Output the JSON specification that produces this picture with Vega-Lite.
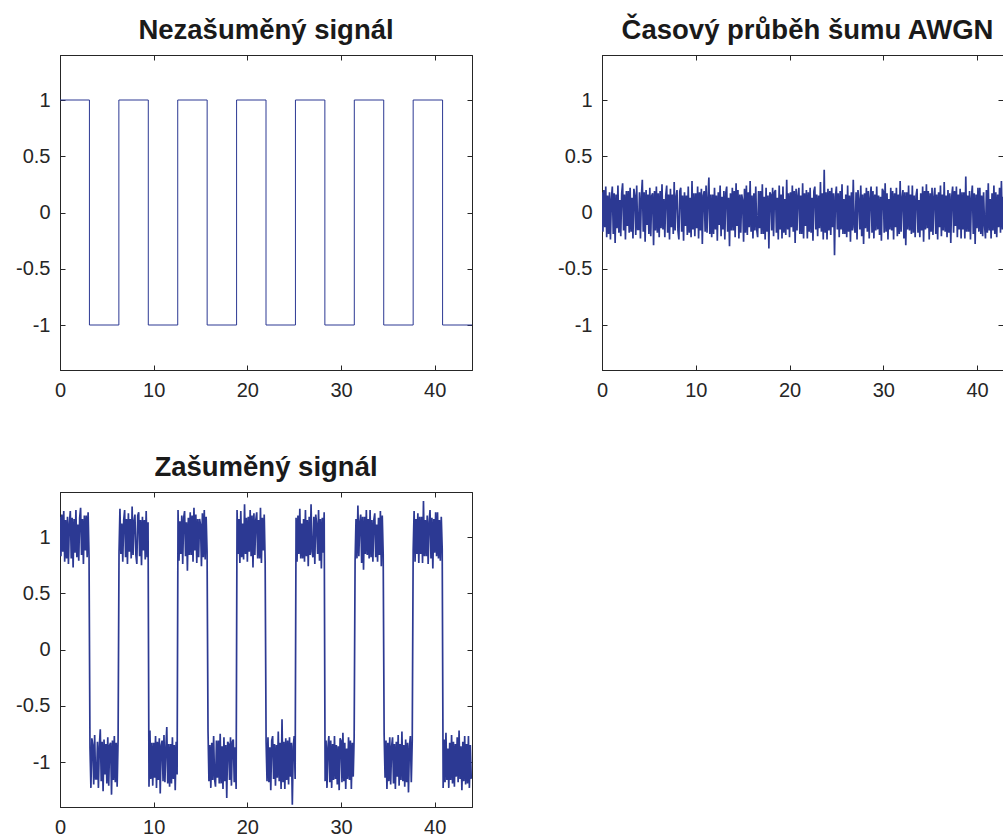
{
"$schema": "https://vega.github.io/schema/vega-lite/v6.json",
"background": "white",
"padding": {"left": 15, "top": 16, "right": 0, "bottom": 0},
"datasets": {
"clean": [
{"t":0,"s":1},{"t":3.1416,"s":-1},{"t":6.2832,"s":1},{"t":9.4248,"s":-1},{"t":12.5664,"s":1},{"t":15.708,"s":-1},{"t":18.8496,"s":1},{"t":21.9911,"s":-1},{"t":25.1327,"s":1},{"t":28.2743,"s":-1},{"t":31.4159,"s":1},{"t":34.5575,"s":-1},{"t":37.6991,"s":1},{"t":40.8407,"s":-1},{"t":43.98,"s":-1}
],
"noise": [
{"t":0,"n":0.18,"z":1.18},{"t":0.1,"n":-0.17,"z":0.83},{"t":0.2,"n":0.2,"z":1.2},{"t":0.3,"n":-0.13,"z":0.87},{"t":0.4,"n":0.23,"z":1.23},{"t":0.5,"n":-0.22,"z":0.78},{"t":0.6,"n":0.15,"z":1.15},{"t":0.7,"n":-0.19,"z":0.81},{"t":0.8,"n":0.18,"z":1.18},{"t":0.9,"n":-0.24,"z":0.76},
{"t":1,"n":0.12,"z":1.12},{"t":1.1,"n":0.23,"z":1.23},{"t":1.2,"n":-0.19,"z":0.81},{"t":1.3,"n":0.17,"z":1.17},{"t":1.4,"n":-0.27,"z":0.73},{"t":1.5,"n":0.16,"z":1.16},{"t":1.6,"n":-0.14,"z":0.86},{"t":1.7,"n":0.24,"z":1.24},{"t":1.8,"n":-0.18,"z":0.82},{"t":1.9,"n":0.11,"z":1.11},
{"t":2,"n":-0.21,"z":0.79},{"t":2.1,"n":0.17,"z":1.17},{"t":2.2,"n":0.26,"z":1.26},{"t":2.3,"n":-0.16,"z":0.84},{"t":2.4,"n":0.16,"z":1.16},{"t":2.5,"n":-0.24,"z":0.76},{"t":2.6,"n":0.19,"z":1.19},{"t":2.7,"n":-0.12,"z":0.88},{"t":2.8,"n":0.19,"z":1.19},{"t":2.9,"n":-0.18,"z":0.82},
{"t":3,"n":0.22,"z":1.22},{"t":3.1,"n":-0.17,"z":0.83},{"t":3.2,"n":0.13,"z":-0.87},{"t":3.3,"n":-0.23,"z":-1.23},{"t":3.4,"n":0.21,"z":-0.79},{"t":3.5,"n":0.15,"z":-0.85},{"t":3.6,"n":-0.2,"z":-1.2},{"t":3.7,"n":0.24,"z":-0.76},{"t":3.8,"n":-0.15,"z":-1.15},{"t":3.9,"n":-0.15,"z":-1.15},
{"t":4,"n":0.18,"z":-0.82},{"t":4.1,"n":-0.23,"z":-1.23},{"t":4.2,"n":0.14,"z":-0.86},{"t":4.3,"n":0.29,"z":-0.71},{"t":4.4,"n":-0.17,"z":-1.17},{"t":4.5,"n":0.18,"z":-0.82},{"t":4.6,"n":-0.26,"z":-1.26},{"t":4.7,"n":0.2,"z":-0.8},{"t":4.8,"n":-0.11,"z":-1.11},{"t":4.9,"n":0.16,"z":-0.84},
{"t":5,"n":-0.19,"z":-1.19},{"t":5.1,"n":0.22,"z":-0.78},{"t":5.2,"n":-0.21,"z":-1.21},{"t":5.3,"n":0.15,"z":-0.85},{"t":5.4,"n":0.17,"z":-0.83},{"t":5.5,"n":-0.29,"z":-1.29},{"t":5.6,"n":0.19,"z":-0.81},{"t":5.7,"n":-0.16,"z":-1.16},{"t":5.8,"n":0.23,"z":-0.77},{"t":5.9,"n":-0.18,"z":-1.18},
{"t":6,"n":0.17,"z":-0.83},{"t":6.1,"n":-0.22,"z":-1.22},{"t":6.2,"n":0.19,"z":-0.81},{"t":6.3,"n":-0.14,"z":0.86},{"t":6.4,"n":0.25,"z":1.25},{"t":6.5,"n":-0.15,"z":0.85},{"t":6.6,"n":0.12,"z":1.12},{"t":6.7,"n":-0.22,"z":0.78},{"t":6.8,"n":0.15,"z":1.15},{"t":6.9,"n":0.24,"z":1.24},
{"t":7,"n":-0.18,"z":0.82},{"t":7.1,"n":0.16,"z":1.16},{"t":7.2,"n":-0.24,"z":0.76},{"t":7.3,"n":0.21,"z":1.21},{"t":7.4,"n":-0.13,"z":0.87},{"t":7.5,"n":0.16,"z":1.16},{"t":7.6,"n":-0.19,"z":0.81},{"t":7.7,"n":0.27,"z":1.27},{"t":7.8,"n":-0.16,"z":0.84},{"t":7.9,"n":0.14,"z":1.14},
{"t":8,"n":0.2,"z":1.2},{"t":8.1,"n":-0.16,"z":0.84},{"t":8.2,"n":-0.24,"z":0.76},{"t":8.3,"n":0.19,"z":1.19},{"t":8.4,"n":0.22,"z":1.22},{"t":8.5,"n":-0.17,"z":0.83},{"t":8.6,"n":0.15,"z":1.15},{"t":8.7,"n":-0.25,"z":0.75},{"t":8.8,"n":0.18,"z":1.18},{"t":8.9,"n":-0.12,"z":0.88},
{"t":9,"n":0.15,"z":1.15},{"t":9.1,"n":-0.2,"z":0.8},{"t":9.2,"n":0.23,"z":1.23},{"t":9.3,"n":-0.18,"z":0.82},{"t":9.4,"n":0.13,"z":1.13},{"t":9.5,"n":-0.22,"z":-1.22},{"t":9.6,"n":0.28,"z":-0.72},{"t":9.7,"n":-0.15,"z":-1.15},{"t":9.8,"n":0.17,"z":-0.83},{"t":9.9,"n":-0.21,"z":-1.21},
{"t":10,"n":0.17,"z":-0.83},{"t":10.1,"n":-0.14,"z":-1.14},{"t":10.2,"n":0.23,"z":-0.77},{"t":10.3,"n":-0.23,"z":-1.23},{"t":10.4,"n":0.18,"z":-0.82},{"t":10.5,"n":-0.16,"z":-1.16},{"t":10.6,"n":0.21,"z":-0.79},{"t":10.7,"n":-0.28,"z":-1.28},{"t":10.8,"n":0.15,"z":-0.85},{"t":10.9,"n":0.19,"z":-0.81},
{"t":11,"n":-0.17,"z":-1.17},{"t":11.1,"n":0.24,"z":-0.76},{"t":11.2,"n":-0.18,"z":-1.18},{"t":11.3,"n":0.12,"z":-0.88},{"t":11.4,"n":0.31,"z":-0.69},{"t":11.5,"n":-0.19,"z":-1.19},{"t":11.6,"n":0.16,"z":-0.84},{"t":11.7,"n":-0.22,"z":-1.22},{"t":11.8,"n":0.16,"z":-0.84},{"t":11.9,"n":-0.19,"z":-1.19},
{"t":12,"n":0.22,"z":-0.78},{"t":12.1,"n":-0.15,"z":-1.15},{"t":12.2,"n":0.15,"z":-0.85},{"t":12.3,"n":-0.25,"z":-1.25},{"t":12.4,"n":0.18,"z":-0.82},{"t":12.5,"n":-0.11,"z":-1.11},{"t":12.6,"n":0.24,"z":1.24},{"t":12.7,"n":-0.21,"z":0.79},{"t":12.8,"n":0.14,"z":1.14},{"t":12.9,"n":-0.15,"z":0.85},
{"t":13,"n":0.19,"z":1.19},{"t":13.1,"n":-0.24,"z":0.76},{"t":13.2,"n":0.17,"z":1.17},{"t":13.3,"n":0.23,"z":1.23},{"t":13.4,"n":-0.17,"z":0.83},{"t":13.5,"n":0.13,"z":1.13},{"t":13.6,"n":-0.3,"z":0.7},{"t":13.7,"n":0.17,"z":1.17},{"t":13.8,"n":-0.16,"z":0.84},{"t":13.9,"n":0.22,"z":1.22},
{"t":14,"n":-0.16,"z":0.84},{"t":14.1,"n":0.19,"z":1.19},{"t":14.2,"n":-0.22,"z":0.78},{"t":14.3,"n":0.26,"z":1.26},{"t":14.4,"n":-0.12,"z":0.88},{"t":14.5,"n":0.2,"z":1.2},{"t":14.6,"n":-0.23,"z":0.77},{"t":14.7,"n":0.16,"z":1.16},{"t":14.8,"n":-0.18,"z":0.82},{"t":14.9,"n":0.16,"z":1.16},
{"t":15,"n":0.11,"z":1.11},{"t":15.1,"n":-0.26,"z":0.74},{"t":15.2,"n":0.21,"z":1.21},{"t":15.3,"n":-0.18,"z":0.82},{"t":15.4,"n":0.24,"z":1.24},{"t":15.5,"n":-0.2,"z":0.8},{"t":15.6,"n":0.18,"z":1.18},{"t":15.7,"n":-0.13,"z":0.87},{"t":15.8,"n":0.28,"z":-0.72},{"t":15.9,"n":-0.17,"z":-1.17},
{"t":16,"n":0.15,"z":-0.85},{"t":16.1,"n":-0.23,"z":-1.23},{"t":16.2,"n":0.17,"z":-0.83},{"t":16.3,"n":-0.16,"z":-1.16},{"t":16.4,"n":0.23,"z":-0.77},{"t":16.5,"n":-0.15,"z":-1.15},{"t":16.6,"n":-0.22,"z":-1.22},{"t":16.7,"n":0.19,"z":-0.81},{"t":16.8,"n":-0.14,"z":-1.14},{"t":16.9,"n":0.19,"z":-0.81},
{"t":17,"n":-0.19,"z":-1.19},{"t":17.1,"n":0.25,"z":-0.75},{"t":17.2,"n":-0.19,"z":-1.19},{"t":17.3,"n":0.14,"z":-0.86},{"t":17.4,"n":-0.24,"z":-1.24},{"t":17.5,"n":0.22,"z":-0.78},{"t":17.6,"n":-0.17,"z":-1.17},{"t":17.7,"n":0.15,"z":-0.85},{"t":17.8,"n":-0.32,"z":-1.32},{"t":17.9,"n":0.18,"z":-0.82},
{"t":18,"n":0.16,"z":-0.84},{"t":18.1,"n":-0.16,"z":-1.16},{"t":18.2,"n":0.22,"z":-0.78},{"t":18.3,"n":-0.21,"z":-1.21},{"t":18.4,"n":0.18,"z":-0.82},{"t":18.5,"n":0.2,"z":-0.8},{"t":18.6,"n":-0.18,"z":-1.18},{"t":18.7,"n":0.13,"z":-0.87},{"t":18.8,"n":-0.24,"z":-1.24},{"t":18.9,"n":0.24,"z":1.24},
{"t":19,"n":-0.15,"z":0.85},{"t":19.1,"n":0.16,"z":1.16},{"t":19.2,"n":-0.23,"z":0.77},{"t":19.3,"n":0.23,"z":1.23},{"t":19.4,"n":-0.18,"z":0.82},{"t":19.5,"n":0.12,"z":1.12},{"t":19.6,"n":-0.2,"z":0.8},{"t":19.7,"n":0.29,"z":1.29},{"t":19.8,"n":-0.15,"z":0.85},{"t":19.9,"n":0.17,"z":1.17},
{"t":20,"n":-0.22,"z":0.78},{"t":20.1,"n":0.18,"z":1.18},{"t":20.2,"n":-0.13,"z":0.87},{"t":20.3,"n":0.24,"z":1.24},{"t":20.4,"n":-0.17,"z":0.83},{"t":20.5,"n":0.19,"z":1.19},{"t":20.6,"n":-0.27,"z":0.73},{"t":20.7,"n":0.21,"z":1.21},{"t":20.8,"n":-0.16,"z":0.84},{"t":20.9,"n":0.15,"z":1.15},
{"t":21,"n":0.22,"z":1.22},{"t":21.1,"n":-0.19,"z":0.81},{"t":21.2,"n":0.15,"z":1.15},{"t":21.3,"n":-0.19,"z":0.81},{"t":21.4,"n":0.26,"z":1.26},{"t":21.5,"n":-0.23,"z":0.77},{"t":21.6,"n":0.17,"z":1.17},{"t":21.7,"n":-0.12,"z":0.88},{"t":21.8,"n":0.2,"z":1.2},{"t":21.9,"n":-0.23,"z":0.77},
{"t":22,"n":0.18,"z":-0.82},{"t":22.1,"n":-0.17,"z":-1.17},{"t":22.2,"n":0.22,"z":-0.78},{"t":22.3,"n":-0.18,"z":-1.18},{"t":22.4,"n":0.13,"z":-0.87},{"t":22.5,"n":-0.25,"z":-1.25},{"t":22.6,"n":0.19,"z":-0.81},{"t":22.7,"n":0.23,"z":-0.77},{"t":22.8,"n":-0.15,"z":-1.15},{"t":22.9,"n":0.16,"z":-0.84},
{"t":23,"n":-0.21,"z":-1.21},{"t":23.1,"n":0.15,"z":-0.85},{"t":23.2,"n":-0.14,"z":-1.14},{"t":23.3,"n":0.27,"z":-0.73},{"t":23.4,"n":-0.17,"z":-1.17},{"t":23.5,"n":0.17,"z":-0.83},{"t":23.6,"n":-0.24,"z":-1.24},{"t":23.7,"n":0.38,"z":-0.62},{"t":23.8,"n":-0.18,"z":-1.18},{"t":23.9,"n":0.18,"z":-0.82},
{"t":24,"n":-0.24,"z":-1.24},{"t":24.1,"n":0.21,"z":-0.79},{"t":24.2,"n":-0.16,"z":-1.16},{"t":24.3,"n":0.19,"z":-0.81},{"t":24.4,"n":-0.2,"z":-1.2},{"t":24.5,"n":0.22,"z":-0.78},{"t":24.6,"n":-0.13,"z":-1.13},{"t":24.7,"n":0.17,"z":-0.83},{"t":24.8,"n":-0.38,"z":-1.38},{"t":24.9,"n":0.14,"z":-0.86},
{"t":25,"n":0.23,"z":-0.77},{"t":25.1,"n":-0.15,"z":-1.15},{"t":25.2,"n":0.17,"z":1.17},{"t":25.3,"n":-0.22,"z":0.78},{"t":25.4,"n":0.19,"z":1.19},{"t":25.5,"n":-0.15,"z":0.85},{"t":25.6,"n":0.25,"z":1.25},{"t":25.7,"n":-0.19,"z":0.81},{"t":25.8,"n":0.12,"z":1.12},{"t":25.9,"n":-0.19,"z":0.81},
{"t":26,"n":0.16,"z":1.16},{"t":26.1,"n":-0.22,"z":0.78},{"t":26.2,"n":0.24,"z":1.24},{"t":26.3,"n":-0.17,"z":0.83},{"t":26.4,"n":0.15,"z":1.15},{"t":26.5,"n":-0.26,"z":0.74},{"t":26.6,"n":0.18,"z":1.18},{"t":26.7,"n":-0.16,"z":0.84},{"t":26.8,"n":0.29,"z":1.29},{"t":26.9,"n":-0.13,"z":0.87},
{"t":27,"n":-0.18,"z":0.82},{"t":27.1,"n":0.18,"z":1.18},{"t":27.2,"n":-0.24,"z":0.76},{"t":27.3,"n":0.2,"z":1.2},{"t":27.4,"n":0.11,"z":1.11},{"t":27.5,"n":-0.15,"z":0.85},{"t":27.6,"n":0.24,"z":1.24},{"t":27.7,"n":-0.21,"z":0.79},{"t":27.8,"n":0.16,"z":1.16},{"t":27.9,"n":-0.28,"z":0.72},
{"t":28,"n":0.17,"z":1.17},{"t":28.1,"n":-0.14,"z":0.86},{"t":28.2,"n":0.22,"z":1.22},{"t":28.3,"n":-0.17,"z":-1.17},{"t":28.4,"n":0.19,"z":-0.81},{"t":28.5,"n":-0.23,"z":-1.23},{"t":28.6,"n":0.13,"z":-0.87},{"t":28.7,"n":0.23,"z":-0.77},{"t":28.8,"n":-0.18,"z":-1.18},{"t":28.9,"n":0.19,"z":-0.81},
{"t":29,"n":-0.23,"z":-1.23},{"t":29.1,"n":0.16,"z":-0.84},{"t":29.2,"n":-0.16,"z":-1.16},{"t":29.3,"n":0.23,"z":-0.77},{"t":29.4,"n":-0.15,"z":-1.15},{"t":29.5,"n":0.15,"z":-0.85},{"t":29.6,"n":-0.2,"z":-1.2},{"t":29.7,"n":0.14,"z":-0.86},{"t":29.8,"n":-0.25,"z":-1.25},{"t":29.9,"n":0.21,"z":-0.79},
{"t":30,"n":0.19,"z":-0.81},{"t":30.1,"n":-0.18,"z":-1.18},{"t":30.2,"n":0.26,"z":-0.74},{"t":30.3,"n":-0.17,"z":-1.17},{"t":30.4,"n":0.17,"z":-0.83},{"t":30.5,"n":-0.24,"z":-1.24},{"t":30.6,"n":0.12,"z":-0.88},{"t":30.7,"n":-0.15,"z":-1.15},{"t":30.8,"n":0.22,"z":-0.78},{"t":30.9,"n":-0.16,"z":-1.16},
{"t":31,"n":0.19,"z":-0.81},{"t":31.1,"n":-0.24,"z":-1.24},{"t":31.2,"n":0.17,"z":-0.83},{"t":31.3,"n":-0.13,"z":-1.13},{"t":31.4,"n":0.22,"z":-0.78},{"t":31.5,"n":-0.21,"z":0.79},{"t":31.6,"n":0.16,"z":1.16},{"t":31.7,"n":-0.19,"z":0.81},{"t":31.8,"n":0.28,"z":1.28},{"t":31.9,"n":-0.17,"z":0.83},
{"t":32,"n":0.13,"z":1.13},{"t":32.1,"n":0.2,"z":1.2},{"t":32.2,"n":-0.23,"z":0.77},{"t":32.3,"n":0.18,"z":1.18},{"t":32.4,"n":-0.29,"z":0.71},{"t":32.5,"n":0.18,"z":1.18},{"t":32.6,"n":-0.15,"z":0.85},{"t":32.7,"n":0.24,"z":1.24},{"t":32.8,"n":-0.16,"z":0.84},{"t":32.9,"n":0.16,"z":1.16},
{"t":33,"n":-0.19,"z":0.81},{"t":33.1,"n":0.24,"z":1.24},{"t":33.2,"n":-0.18,"z":0.82},{"t":33.3,"n":0.15,"z":1.15},{"t":33.4,"n":-0.22,"z":0.78},{"t":33.5,"n":0.15,"z":1.15},{"t":33.6,"n":0.21,"z":1.21},{"t":33.7,"n":-0.18,"z":0.82},{"t":33.8,"n":0.11,"z":1.11},{"t":33.9,"n":-0.22,"z":0.78},
{"t":34,"n":0.17,"z":1.17},{"t":34.1,"n":-0.16,"z":0.84},{"t":34.2,"n":0.23,"z":1.23},{"t":34.3,"n":-0.26,"z":0.74},{"t":34.4,"n":0.19,"z":1.19},{"t":34.5,"n":-0.15,"z":0.85},{"t":34.6,"n":0.25,"z":-0.75},{"t":34.7,"n":-0.14,"z":-1.14},{"t":34.8,"n":0.19,"z":-0.81},{"t":34.9,"n":-0.24,"z":-1.24},
{"t":35,"n":0.17,"z":-0.83},{"t":35.1,"n":-0.17,"z":-1.17},{"t":35.2,"n":0.22,"z":-0.78},{"t":35.3,"n":-0.2,"z":-1.2},{"t":35.4,"n":0.14,"z":-0.86},{"t":35.5,"n":0.22,"z":-0.78},{"t":35.6,"n":-0.19,"z":-1.19},{"t":35.7,"n":0.16,"z":-0.84},{"t":35.8,"n":-0.24,"z":-1.24},{"t":35.9,"n":0.18,"z":-0.82},
{"t":36,"n":-0.13,"z":-1.13},{"t":36.1,"n":0.24,"z":-0.76},{"t":36.2,"n":-0.21,"z":-1.21},{"t":36.3,"n":0.16,"z":-0.84},{"t":36.4,"n":-0.16,"z":-1.16},{"t":36.5,"n":0.27,"z":-0.73},{"t":36.6,"n":-0.17,"z":-1.17},{"t":36.7,"n":0.15,"z":-0.85},{"t":36.8,"n":-0.22,"z":-1.22},{"t":36.9,"n":0.2,"z":-0.8},
{"t":37,"n":-0.18,"z":-1.18},{"t":37.1,"n":0.17,"z":-0.83},{"t":37.2,"n":-0.27,"z":-1.27},{"t":37.3,"n":0.14,"z":-0.86},{"t":37.4,"n":0.23,"z":-0.77},{"t":37.5,"n":-0.18,"z":-1.18},{"t":37.6,"n":0.19,"z":-0.81},{"t":37.7,"n":-0.12,"z":0.88},{"t":37.8,"n":0.23,"z":1.23},{"t":37.9,"n":-0.22,"z":0.78},
{"t":38,"n":0.16,"z":1.16},{"t":38.1,"n":-0.15,"z":0.85},{"t":38.2,"n":0.21,"z":1.21},{"t":38.3,"n":-0.23,"z":0.77},{"t":38.4,"n":0.18,"z":1.18},{"t":38.5,"n":-0.15,"z":0.85},{"t":38.6,"n":0.18,"z":1.18},{"t":38.7,"n":-0.23,"z":0.77},{"t":38.8,"n":0.32,"z":1.32},{"t":38.9,"n":-0.17,"z":0.83},
{"t":39,"n":0.15,"z":1.15},{"t":39.1,"n":-0.17,"z":0.83},{"t":39.2,"n":0.19,"z":1.19},{"t":39.3,"n":-0.24,"z":0.76},{"t":39.4,"n":0.13,"z":1.13},{"t":39.5,"n":0.24,"z":1.24},{"t":39.6,"n":-0.19,"z":0.81},{"t":39.7,"n":0.17,"z":1.17},{"t":39.8,"n":-0.28,"z":0.72},{"t":39.9,"n":0.16,"z":1.16},
{"t":40,"n":-0.14,"z":0.86},{"t":40.1,"n":0.22,"z":1.22},{"t":40.2,"n":-0.17,"z":0.83},{"t":40.3,"n":0.22,"z":1.22},{"t":40.4,"n":-0.19,"z":0.81},{"t":40.5,"n":0.15,"z":1.15},{"t":40.6,"n":-0.21,"z":0.79},{"t":40.7,"n":0.18,"z":1.18},{"t":40.8,"n":-0.11,"z":0.89},{"t":40.9,"n":-0.23,"z":-1.23},
{"t":41,"n":0.2,"z":-0.8},{"t":41.1,"n":-0.18,"z":-1.18},{"t":41.2,"n":0.26,"z":-0.74},{"t":41.3,"n":-0.16,"z":-1.16},{"t":41.4,"n":0.12,"z":-0.88},{"t":41.5,"n":-0.23,"z":-1.23},{"t":41.6,"n":0.17,"z":-0.83},{"t":41.7,"n":-0.16,"z":-1.16},{"t":41.8,"n":0.24,"z":-0.76},{"t":41.9,"n":-0.19,"z":-1.19},
{"t":42,"n":0.18,"z":-0.82},{"t":42.1,"n":-0.22,"z":-1.22},{"t":42.2,"n":0.16,"z":-0.84},{"t":42.3,"n":-0.13,"z":-1.13},{"t":42.4,"n":0.22,"z":-0.78},{"t":42.5,"n":-0.18,"z":-1.18},{"t":42.6,"n":0.28,"z":-0.72},{"t":42.7,"n":-0.15,"z":-1.15},{"t":42.8,"n":0.14,"z":-0.86},{"t":42.9,"n":-0.25,"z":-1.25},
{"t":43,"n":0.18,"z":-0.82},{"t":43.1,"n":-0.17,"z":-1.17},{"t":43.2,"n":0.23,"z":-0.77},{"t":43.3,"n":-0.2,"z":-1.2},{"t":43.4,"n":0.16,"z":-0.84},{"t":43.5,"n":-0.19,"z":-1.19},{"t":43.6,"n":0.23,"z":-0.77},{"t":43.7,"n":-0.23,"z":-1.23},{"t":43.8,"n":0.15,"z":-0.85},{"t":43.9,"n":-0.15,"z":-1.15}
]
},
"config": {
"font": "Liberation Sans",
"view": {"stroke": "#262626", "strokeWidth": 1},
"axis": {"grid": false, "domainColor": "#262626", "domainWidth": 1, "tickColor": "#262626", "tickWidth": 1, "tickSize": -5, "labelFont": "Liberation Sans", "labelFontSize": 20, "labelColor": "#262626", "labelPadding": 15, "labelFlush": false, "labelOverlap": false},
"title": {"font": "Liberation Sans", "fontSize": 27.5, "fontWeight": "bold", "color": "#1a1a1a", "offset": 10}
},
"spacing": 52,
"vconcat": [
{
"spacing": 84,
"hconcat": [
{
"width": 412, "height": 315,
"title": {"text": "Nezašuměný signál"},
"layer": [
{"data": {"name": "clean"}, "mark": {"type": "line", "interpolate": "step-after", "color": "#2c3993", "strokeWidth": 1, "clip": true},
"encoding": {
"x": {"field": "t", "type": "quantitative", "scale": {"domain": [0, 43.98], "nice": false, "zero": false}, "axis": {"orient": "bottom", "title": null, "values": [0, 10, 20, 30, 40], "format": "d"}},
"y": {"field": "s", "type": "quantitative", "scale": {"domain": [-1.4, 1.4], "nice": false}, "axis": {"orient": "left", "title": null, "values": [-1, -0.5, 0, 0.5, 1], "labelExpr": "(datum.value < 0 ? '-' : '') + toString(abs(datum.value))"}}
}},
{"data": {"name": "clean"}, "mark": {"type": "point", "opacity": 0, "clip": true},
"encoding": {
"x": {"field": "t", "type": "quantitative", "axis": {"orient": "top", "title": null, "values": [0, 10, 20, 30, 40], "labels": false}},
"y": {"field": "s", "type": "quantitative", "axis": {"orient": "right", "title": null, "values": [-1, -0.5, 0, 0.5, 1], "labels": false}}
}}
],
"resolve": {"axis": {"x": "independent", "y": "independent"}}
},
{
"width": 401, "height": 315,
"title": {"text": "Časový průběh šumu AWGN", "dx": 5},
"layer": [
{"data": {"name": "noise"}, "mark": {"type": "line", "color": "#2c3993", "strokeWidth": 1.7, "clip": true},
"encoding": {
"x": {"field": "t", "type": "quantitative", "scale": {"domain": [0, 42.77], "nice": false, "zero": false}, "axis": {"orient": "bottom", "title": null, "values": [0, 10, 20, 30, 40], "format": "d"}},
"y": {"field": "n", "type": "quantitative", "scale": {"domain": [-1.4, 1.4], "nice": false}, "axis": {"orient": "left", "title": null, "values": [-1, -0.5, 0, 0.5, 1], "labelExpr": "(datum.value < 0 ? '-' : '') + toString(abs(datum.value))"}}
}},
{"data": {"name": "clean"}, "mark": {"type": "point", "opacity": 0, "clip": true},
"encoding": {
"x": {"field": "t", "type": "quantitative", "axis": {"orient": "top", "title": null, "values": [0, 10, 20, 30, 40], "labels": false}},
"y": {"field": "s", "type": "quantitative", "axis": {"orient": "right", "title": null, "values": [-1, -0.5, 0, 0.5, 1], "labels": false}}
}}
],
"resolve": {"axis": {"x": "independent", "y": "independent"}}
}
]
},
{
"width": 412, "height": 315,
"title": {"text": "Zašuměný signál"},
"layer": [
{"data": {"name": "noise"}, "mark": {"type": "line", "color": "#2c3993", "strokeWidth": 1.7, "clip": true},
"encoding": {
"x": {"field": "t", "type": "quantitative", "scale": {"domain": [0, 43.98], "nice": false, "zero": false}, "axis": {"orient": "bottom", "title": null, "values": [0, 10, 20, 30, 40], "format": "d"}},
"y": {"field": "z", "type": "quantitative", "scale": {"domain": [-1.4, 1.4], "nice": false}, "axis": {"orient": "left", "title": null, "values": [-1, -0.5, 0, 0.5, 1], "labelExpr": "(datum.value < 0 ? '-' : '') + toString(abs(datum.value))"}}
}},
{"data": {"name": "clean"}, "mark": {"type": "point", "opacity": 0, "clip": true},
"encoding": {
"x": {"field": "t", "type": "quantitative", "axis": {"orient": "top", "title": null, "values": [0, 10, 20, 30, 40], "labels": false}},
"y": {"field": "s", "type": "quantitative", "axis": {"orient": "right", "title": null, "values": [-1, -0.5, 0, 0.5, 1], "labels": false}}
}}
],
"resolve": {"axis": {"x": "independent", "y": "independent"}}
}
]
}
